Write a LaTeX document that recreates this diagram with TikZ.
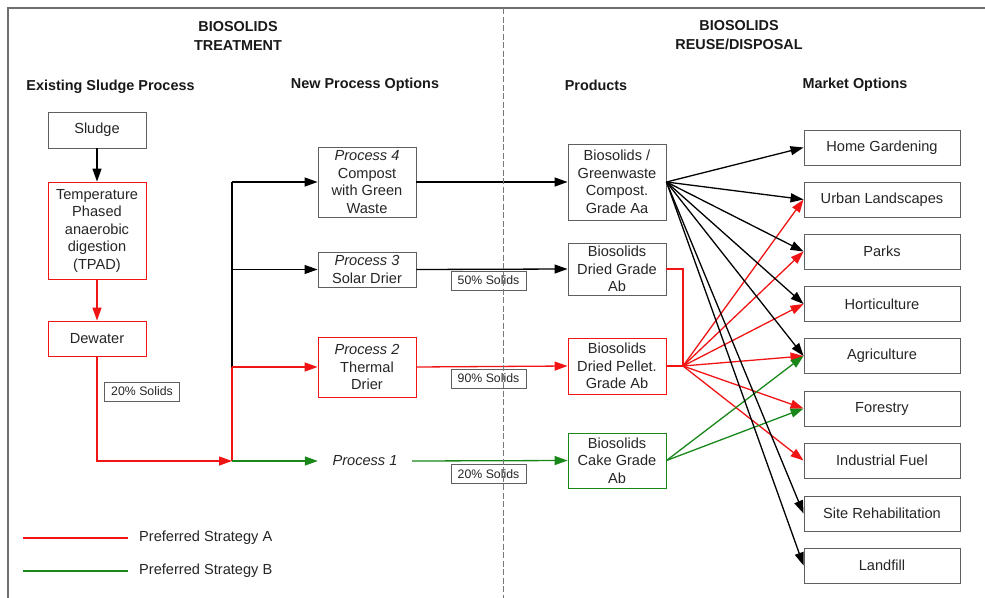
\documentclass[tikz,border=0pt]{standalone}
\usepackage{fontspec}
\setmainfont{Liberation Sans}
\usetikzlibrary{arrows.meta}
\definecolor{boxgray}{RGB}{95,95,95}
\definecolor{lred}{RGB}{240,20,20}
\definecolor{lgreen}{RGB}{25,135,25}
\definecolor{dashgray}{RGB}{120,120,120}
\definecolor{framegray}{RGB}{110,110,110}
\begin{document}
\begin{tikzpicture}[x=1pt,y=-1pt,
  txt/.style={font=\fontsize{14.6}{17.5}\selectfont, text=black!85},
  box/.style={txt, draw=boxgray, line width=0.9pt, align=center, inner sep=0pt, minimum width=98pt},
  mbox/.style={box, minimum width=156pt, minimum height=35pt},
  lbl/.style={draw=boxgray, line width=0.8pt, font=\fontsize{12.3}{14}\selectfont, text=black!85, inner sep=0pt, minimum width=75pt, minimum height=19pt},
  head/.style={font=\bfseries\fontsize{14.4}{19}\selectfont, align=center, text=black!90},
  con/.style={line width=1.3pt, -{Triangle[length=13pt,width=9pt]}},
  ln/.style={line width=1.3pt},
]
\useasboundingbox (0,0) rectangle (985,597);
\fill[white] (0,0) rectangle (985,597);
% frame
\draw[framegray, line width=1.5pt] (8,600) -- (8,8) -- (990,8);

% headings
\node[head] (t1) at (238,35.5) {BIOSOLIDS\\TREATMENT};
\node[head] (t2) at (739,35.5) {BIOSOLIDS\\REUSE/DISPOSAL};
\node[head] (h1) at (110.5,87) {Existing Sludge Process};
\node[head] (h2) at (365,85) {New Process Options};
\node[head] (h3) at (596,85) {Products};
\node[head] (h4) at (855,85) {Market Options};

% existing process
\node[box, minimum height=36pt] (sludge) at (97,130) {Sludge};
\node[box, draw=lred, minimum height=97pt] (tpad) at (97,230.5) {Temperature\\Phased\\anaerobic\\digestion\\(TPAD)};
\node[box, draw=lred, minimum height=35pt] (dewater) at (97,338.5) {Dewater};
\node[lbl] (s20a) at (142,391.5) {20\% Solids};

% new processes
\node[box, minimum height=70pt] (p4) at (367,182) {\textit{Process 4}\\Compost\\with Green\\Waste};
\node[box, minimum height=35pt] (p3) at (367,269.5) {\textit{Process 3}\\Solar Drier};
\node[box, draw=lred, minimum height=60pt] (p2) at (367,367) {\textit{Process 2}\\Thermal\\Drier};
\node[txt, inner sep=0pt, minimum width=94pt, minimum height=20pt] (p1) at (365,461) {\textit{Process 1}};

% products
\node[box, minimum height=76pt] (compost) at (617,182) {Biosolids /\\Greenwaste\\Compost.\\Grade Aa};
\node[box, minimum height=52pt] (dried) at (617,269) {Biosolids\\Dried Grade\\Ab};
\node[box, draw=lred, minimum height=56pt] (pellet) at (617,366) {Biosolids\\Dried Pellet.\\Grade Ab};
\node[box, draw=lgreen, minimum height=55pt] (cake) at (617,460.5) {Biosolids\\Cake Grade\\Ab};

\node[lbl] (s50) at (488.5,280.5) {50\% Solids};
\node[lbl] (s90) at (488.5,378.5) {90\% Solids};
\node[lbl] (s20b) at (488.5,474) {20\% Solids};

% markets
\node[mbox] (home) at (882,147.5) {Home Gardening};
\node[mbox] (urban) at (882,199.5) {Urban Landscapes};
\node[mbox] (parks) at (882,251.5) {Parks};
\node[mbox] (hort) at (882,304) {Horticulture};
\node[mbox] (agri) at (882,356) {Agriculture};
\node[mbox] (forest) at (882,408.5) {Forestry};
\node[mbox] (fuel) at (882,460.5) {Industrial Fuel};
\node[mbox] (site) at (882,513.5) {Site Rehabilitation};
\node[mbox] (landfill) at (882,565.5) {Landfill};

% junction coordinates
\coordinate (jtop) at (232,182);
\coordinate (j3) at (232,269.5);
\coordinate (j2) at (232,367);
\coordinate (j1) at (232,461);
\coordinate (bend) at (683,269);
\coordinate (fanR) at (683,366);

% left column connectors
\draw[con, black] (sludge) -- (tpad);
\draw[con, lred] (tpad) -- (dewater);
\draw[con, lred] (dewater.south) |- (j1);

% trunk
\draw[ln, black] (jtop) -- (j2);
\draw[ln, lred] (j2) -- (j1);
\draw[con, black] (jtop) -- (p4.west);
\draw[con, black] (j3) -- (p3.west);
\draw[con, lred] (j2) -- (p2.west);
\draw[con, lgreen] (j1) -- (p1.west);

% processes to products
\draw[con, black] (p4.east) -- (compost.west);
\draw[con, black] (p3.east) -- (dried.west);
\draw[con, lred] (p2.east) -- (pellet.west);
\draw[con, lgreen] (p1.east) -- (cake.west);

% product fan-outs
\draw[ln, lred] (dried.east) -- (bend) -- (fanR);
\draw[ln, lred] (pellet.east) -- (fanR);
\foreach \m in {urban,parks,hort,agri,forest,fuel}
  \draw[con, lred] (fanR) -- (\m.west);
\foreach \m in {agri,forest}
  \draw[con, lgreen] (cake.east) -- (\m.west);
\foreach \m in {home,urban,parks,hort,agri,site,landfill}
  \draw[con, black] (compost.east) -- (\m.west);

% divider
\draw[dashgray, line width=0.9pt, dash pattern=on 6pt off 2.5pt] (503,8) -- (503,600);

% legend
\coordinate (la1) at (23,538);
\coordinate (la2) at (128,538);
\coordinate (lb1) at (23,571);
\coordinate (lb2) at (128,571);
\draw[ln, lred] (la1) -- (la2);
\draw[ln, lgreen] (lb1) -- (lb2);
\node[txt, anchor=west, inner sep=0pt] (lega) at (139,538) {Preferred Strategy A};
\node[txt, anchor=west, inner sep=0pt] (legb) at (139,571) {Preferred Strategy B};
\end{tikzpicture}
\end{document}
